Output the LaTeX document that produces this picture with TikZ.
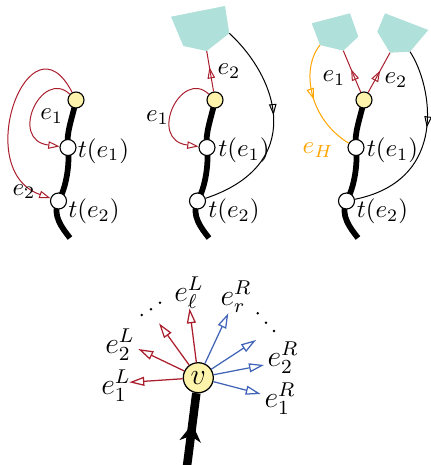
\documentclass[tikz,border=0pt]{standalone}
\usetikzlibrary{arrows.meta,decorations.markings}
\definecolor{ered}{RGB}{170,30,45}
\definecolor{eblue}{RGB}{65,100,185}
\definecolor{eorange}{RGB}{255,165,0}
\definecolor{eteal}{RGB}{176,224,218}
\definecolor{eyellow}{RGB}{253,243,170}
\pgfdeclarelayer{bg}
\pgfsetlayers{bg,main}
\tikzset{
 vnode/.style={circle,draw,line width=0.45pt,fill=eyellow,minimum size=6.4pt,inner sep=0pt},
 tnode/.style={circle,draw,line width=0.45pt,fill=white,minimum size=6.4pt,inner sep=0pt},
 bignode/.style={circle,draw,line width=0.5pt,fill=eyellow,minimum size=12pt,inner sep=0pt},
 spine/.style={line width=2.3pt},
 redarc/.style={color=ered,line width=0.4pt,-{Triangle[open,length=4.5pt,width=3pt]}},
 redline/.style={color=ered,line width=0.4pt},
 blackline/.style={color=black,line width=0.4pt},
 orangeline/.style={color=eorange,line width=0.4pt},
 midarrow/.style={postaction={decorate},decoration={markings,mark=at position #1 with {\arrow{Triangle[open,length=4.5pt,width=3pt]}}}},
 bigarrow/.style={postaction={decorate},decoration={markings,mark=at position #1 with {\arrow{Stealth[length=7pt,width=8.5pt,inset=2.2pt]}}}},
 bred/.style={color=ered,line width=0.5pt,-{Triangle[open,length=6pt,width=3.6pt]}},
 bblue/.style={color=eblue,line width=0.5pt,-{Triangle[open,length=6pt,width=3.6pt]}},
 lbl/.style={inner sep=0pt},
 dotm/.style={fill=black},
}
\begin{document}
\begin{tikzpicture}[x=0.4pt,y=-0.4pt]
\useasboundingbox (0,0) rectangle (431,465);

% ---------- panel 1 ----------
\node[vnode] (ay) at (76,100) {};
\node[tnode] (at1) at (68,147.5) {};
\node[tnode] (at2) at (58.5,201) {};
\coordinate (aend) at (70,238);
\begin{pgfonlayer}{bg}
\draw[spine] (ay.center) .. controls (72,120) and (66,132) .. (at1.center)
  .. controls (70,165) and (66,188) .. (at2.center)
  .. controls (52,215) and (62,228) .. (aend);
\end{pgfonlayer}
\draw[redarc] (ay) .. controls (42,68) and (8,140) .. (at1);
\draw[redarc] (ay) .. controls (30,10) and (-30,170) .. (at2);
\node[lbl] at (51.7,116) {$e_1$};
\node[lbl] at (24,191.7) {$e_2$};
\node[lbl] at (103.5,151) {$t(e_1)$};
\node[lbl] at (94,211.7) {$t(e_2)$};

% ---------- panel 2 ----------
\begin{scope}[shift={(139,0)}]
\node[vnode] (by) at (76,100) {};
\node[tnode] (bt1) at (68,147.5) {};
\node[tnode] (bt2) at (58.5,201) {};
\coordinate (bend) at (70,238);
\begin{pgfonlayer}{bg}
\draw[spine] (by.center) .. controls (72,120) and (66,132) .. (bt1.center)
  .. controls (70,165) and (66,188) .. (bt2.center)
  .. controls (52,215) and (62,228) .. (bend);
\end{pgfonlayer}
\end{scope}
\coordinate (bpr) at (229.3,33.3);
\coordinate (bpb) at (206.7,51);
\fill[eteal] (171,16.7) -- (225,6) -- (bpr) -- (bpb) -- (183.3,46) -- cycle;
\draw[redline,midarrow=0.6] (by) -- (bpb);
\draw[redarc] (by) .. controls (181,68) and (147,140) .. (bt1);
\draw[blackline,midarrow=0.45] (bpr) .. controls (280,80) and (305,165) .. (bt2);
\node[lbl] at (229,71) {$e_2$};
\node[lbl] at (157.5,117.5) {$e_1$};
\node[lbl] at (244,150.5) {$t(e_1)$};
\node[lbl] at (234,211.7) {$t(e_2)$};

% ---------- panel 3 ----------
\begin{scope}[shift={(288,0)}]
\node[vnode] (cy) at (76,100) {};
\node[tnode] (ct1) at (68,147.5) {};
\node[tnode] (ct2) at (58.5,201) {};
\coordinate (cend) at (70,238);
\begin{pgfonlayer}{bg}
\draw[spine] (cy.center) .. controls (72,120) and (66,132) .. (ct1.center)
  .. controls (70,165) and (66,188) .. (ct2.center)
  .. controls (52,215) and (62,228) .. (cend);
\end{pgfonlayer}
\end{scope}
\coordinate (clb) at (343.3,50.7);
\coordinate (cll) at (320,45);
\coordinate (crr) at (410,51.7);
\coordinate (crb) at (390,52.7);
\fill[eteal] (311.7,23.3) -- (350,13.3) -- (358.3,36.7) -- (clb) -- (cll) -- cycle;
\fill[eteal] (377.3,31.7) -- (385,13.3) -- (428.3,30) -- (crr) -- (crb) -- cycle;
\draw[redline,midarrow=0.55] (cy) -- (clb);
\draw[redline,midarrow=0.55] (cy) -- (crb);
\draw[orangeline,midarrow=0.5] (cll) .. controls (300,70) and (310,120) .. (ct1);
\draw[blackline,midarrow=0.42] (crr) .. controls (432,85) and (450,180) .. (ct2);
\node[lbl] at (334,78) {$e_1$};
\node[lbl] at (396,80) {$e_2$};
\node[lbl,text=eorange] at (318,150) {$e_H$};
\node[lbl] at (392.5,150.5) {$t(e_1)$};
\node[lbl] at (382.5,211.7) {$t(e_2)$};

% ---------- bottom ----------
\node[bignode] (v) at (198.3,377.7) {\large $v$};
\coordinate (vin) at (186.5,470);
\draw[line width=3.4pt,bigarrow=0.6] (vin) -- (v);
\coordinate (L1) at (129.3,382.3);
\coordinate (L2) at (138.3,349);
\coordinate (L3) at (159,323.3);
\coordinate (L4) at (189.5,308.3);
\coordinate (R4) at (228.3,313.3);
\coordinate (R3) at (256,340);
\coordinate (R2) at (264,365);
\coordinate (R1) at (260.7,394);
\draw[bred] (v) -- (L1);
\draw[bred] (v) -- (L2);
\draw[bred] (v) -- (L3);
\draw[bred] (v) -- (L4);
\draw[bblue] (v) -- (R4);
\draw[bblue] (v) -- (R3);
\draw[bblue] (v) -- (R2);
\draw[bblue] (v) -- (R1);
\node[lbl] at (116,386) {\large $e_1^L$};
\node[lbl] at (120,345) {\large $e_2^L$};
\node[lbl] at (189,293) {\large $e_\ell^L$};
\node[lbl] at (236,296.5) {\large $e_r^R$};
\node[lbl] at (283,358) {\large $e_2^R$};
\node[lbl] at (280,399) {\large $e_1^R$};
\fill[dotm] (141.7,315) circle (0.55pt);
\fill[dotm] (151,309.3) circle (0.55pt);
\fill[dotm] (160,302.7) circle (0.55pt);
\fill[dotm] (257.7,313.3) circle (0.55pt);
\fill[dotm] (266,322.7) circle (0.55pt);
\fill[dotm] (274,331) circle (0.55pt);
\end{tikzpicture}
\end{document}
